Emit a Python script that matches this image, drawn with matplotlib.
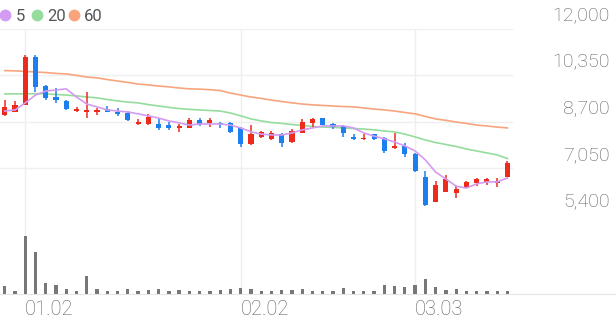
import matplotlib
matplotlib.use("Agg")
import matplotlib.pyplot as plt
import matplotlib.transforms as mtransforms
from matplotlib.lines import Line2D

plt.rcParams['font.family'] = ['Roboto', 'DejaVu Sans']

# daily candles (price, won)
opens = [8940, 9050, 9300, 11000, 9970, 9580, 9440, 9080, 9050, 9050,
         9150, 9050, 9010, 8620, 8620, 8620, 8580, 8480, 8480, 8760,
         8660, 8660, 8660, 8480, 7910, 8160, 8090, 8260, 7980, 8300,
         8660, 8830, 8620, 8550, 8160, 8090, 8260, 8120, 7770, 7840,
         7550, 6730, 5850, 6200, 6170, 6340, 6520, 6560, 6520, 6730]
highs = [9470, 9440, 11070, 11070, 10010, 9900, 9470, 9230, 9760, 9190,
         9260, 9190, 9080, 8800, 8980, 8830, 8690, 8620, 8830, 8830,
         8830, 8690, 8690, 8510, 8580, 8370, 8370, 8300, 8440, 8800,
         8830, 8840, 8660, 8580, 8260, 8260, 8280, 8160, 8300, 7940,
         7590, 6950, 6590, 6810, 6410, 6590, 6700, 6700, 6700, 7300]
lows = [8900, 9040, 9280, 9760, 9470, 9370, 9120, 9050, 8830, 8940,
        9030, 8900, 8730, 8600, 8600, 8410, 8410, 8340, 8480, 8550,
        8510, 8480, 8300, 7800, 7880, 8120, 8050, 7800, 7960, 8290,
        8510, 8570, 8440, 8160, 8050, 8050, 8060, 7590, 7740, 7450,
        6910, 5700, 5830, 6190, 5990, 6330, 6410, 6450, 6380, 6720]
closes = [9220, 9300, 11000, 9940, 9550, 9490, 9150, 9150, 9120, 9120,
          9050, 8980, 8760, 8690, 8870, 8480, 8480, 8550, 8760, 8620,
          8760, 8620, 8340, 7910, 8260, 8340, 8300, 7940, 8370, 8690,
          8800, 8580, 8510, 8300, 8090, 8120, 8090, 7660, 7840, 7550,
          6950, 5740, 6450, 6660, 6310, 6560, 6660, 6660, 6590, 7230]
volume = [24, 10, 175, 127, 32, 27, 14, 10, 55, 14,
          10, 9, 15, 10, 11, 14, 10, 11, 10, 10,
          10, 12, 16, 17, 15, 10, 10, 11, 12, 15,
          10, 8, 9, 17, 10, 8, 9, 26, 24, 20,
          27, 44, 22, 12, 14, 9, 9, 9, 9, 9]

# moving averages as drawn on the chart
ma5 = [9080, 9120, 9370, 9650, 9790, 9830, 9870, 9580, 9330, 9230,
       9120, 9080, 9050, 8980, 8910, 8830, 8730, 8660, 8580, 8620,
       8620, 8620, 8580, 8480, 8340, 8260, 8230, 8230, 8300, 8410,
       8480, 8550, 8550, 8550, 8480, 8300, 8190, 8090, 7980, 7840,
       7660, 7340, 6910, 6660, 6410, 6340, 6490, 6560, 6560, 6700]
ma20 = [9690, 9690, 9690, 9700, 9690, 9670, 9650, 9620, 9580, 9550,
        9490, 9440, 9400, 9370, 9310, 9260, 9210, 9170, 9140, 9120,
        9100, 9080, 9010, 8910, 8800, 8730, 8670, 8640, 8600, 8570,
        8530, 8510, 8500, 8480, 8460, 8440, 8410, 8370, 8340, 8260,
        8160, 8050, 7960, 7890, 7820, 7730, 7660, 7590, 7520, 7390]
ma60 = [10520, 10510, 10490, 10470, 10450, 10420, 10400, 10350, 10290, 10260,
        10200, 10150, 10100, 10040, 10010, 9970, 9940, 9900, 9870, 9860,
        9840, 9810, 9720, 9650, 9580, 9530, 9470, 9420, 9370, 9330,
        9300, 9280, 9260, 9240, 9230, 9190, 9150, 9120, 9080, 9030,
        8980, 8890, 8800, 8750, 8690, 8640, 8580, 8550, 8510, 8480]

price_ticks = [5400, 7050, 8700, 10350, 12000]
tick_idx = [2, 23, 40]
tick_labels = ['01.02', '02.02', '03.03']

UP = '#ec2b1c'
DOWN = '#1b7ff0'
GRID = '#efefef'
TEXT = '#5e5e5e'

fig = plt.figure(figsize=(6.16, 3.21), dpi=100)
ax = fig.add_axes([0, 0.3318, 1, 0.5779])
axv = fig.add_axes([0, 0.0841, 1, 0.2477])

x = list(range(len(closes)))
xlim = (-0.46, 59.58)

for a in (ax, axv):
    a.set_xlim(*xlim)
    for s in a.spines.values():
        s.set_visible(False)
    a.tick_params(left=False, right=False, bottom=False, top=False,
                  labelleft=False, labelbottom=False)
    for t in tick_idx:
        a.axvline(t, color=GRID, lw=1, zorder=0)

# price panel
ax.set_ylim(5400, 12000)
for v in price_ticks[1:]:
    ax.axhline(v, xmax=0.831, color=GRID, lw=1, zorder=0)
ax.spines['bottom'].set_visible(True)
ax.spines['bottom'].set_color('#e6e6e6')

colors = [UP if c >= o else DOWN for o, c in zip(opens, closes)]
bottoms = [min(o, c) for o, c in zip(opens, closes)]
heights = [max(abs(c - o), 25) for o, c in zip(opens, closes)]
ax.vlines(x, lows, highs, colors=colors, lw=1.1, zorder=3)
ax.bar(x, heights, bottom=bottoms, width=0.5, color=colors, zorder=4)

ax.plot(x, ma60, color='#f8a57d', lw=1.2, zorder=2)
ax.plot(x, ma20, color='#95dc9e', lw=1.2, zorder=2)
ax.plot(x, ma5, color='#d39bf2', lw=1.2, zorder=5)

lab_tr = mtransforms.blended_transform_factory(ax.transAxes, ax.transData) + \
    mtransforms.ScaledTranslation(0, 13 / 100, fig.dpi_scale_trans)
for v in price_ticks:
    ax.text(0.99, v, f'{v:,}', transform=lab_tr, ha='right', va='center',
            fontsize=14, color=TEXT, fontweight='light')

# volume panel
axv.set_ylim(0, 240)
axv.bar(x, volume, width=0.32, color='#777777', zorder=3)
axv.spines['bottom'].set_visible(True)
axv.spines['bottom'].set_color('#e6e6e6')
axv.set_xticks(tick_idx)
axv.set_xticklabels(tick_labels)
axv.tick_params(labelbottom=True, labelsize=14.5, labelcolor=TEXT, pad=0.5)
for lbl in axv.get_xticklabels():
    lbl.set_horizontalalignment('left')
    lbl.set_fontweight('light')

# legend
leg = [('5', '#d39bf2', 0.008, 0.026), ('20', '#95dc9e', 0.060, 0.076),
       ('60', '#f8a57d', 0.120, 0.136)]
for name, col, xd, xt in leg:
    fig.add_artist(Line2D([xd], [0.952], marker='o', ms=7.5, color=col,
                          transform=fig.transFigure))
    fig.text(xt, 0.950, name, ha='left', va='center', fontsize=12, color='#555555')

fig.savefig('out.png', dpi=100)
